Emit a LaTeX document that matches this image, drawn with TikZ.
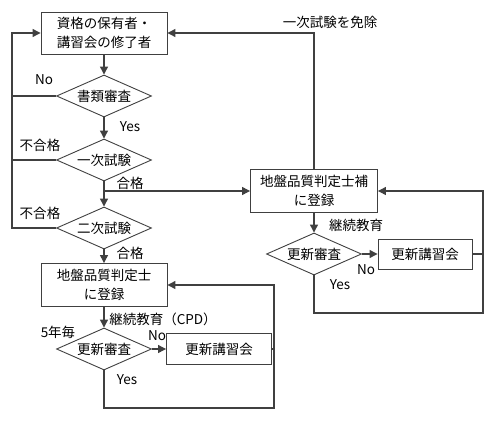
\documentclass[tikz,border=0pt]{standalone}
\usepackage{fontspec}
\setmainfont{Noto Sans CJK JP}
\usepackage{tikz}
\usetikzlibrary{shapes.geometric,arrows.meta}

\begin{document}
\begin{tikzpicture}[x=1pt,y=-1pt,
	box_node/.style={rectangle,draw=black!75,line width=0.9pt,inner sep=2pt,align=center,font=\fontsize{13.5}{19.5}\selectfont},
	dec_node/.style={diamond,draw=black!75,line width=0.9pt,inner sep=0pt,aspect=2.26,minimum width=95pt,minimum height=42pt,font=\fontsize{13.5}{19.5}\selectfont},
	lbl_node/.style={inner sep=0pt,font=\fontsize{13.5}{16}\selectfont},
	arr/.style={draw=black!75,line width=1.2pt,-{Triangle[length=8pt,width=8pt]}},
	ln/.style={draw=black!75,line width=1.2pt}]
	\useasboundingbox (0,0) rectangle (500,420);
	% left column
	\node[box_node,minimum width=126pt,minimum height=42pt] (start) at (104,33) {資格の保有者・\\講習会の修了者};
	\node[dec_node] (doc) at (104,96) {書類審査};
	\node[dec_node] (exam1) at (104,160) {一次試験};
	\node[dec_node] (exam2) at (104,228) {二次試験};
	\node[box_node,minimum width=126pt,minimum height=43pt] (reg) at (104,285) {地盤品質判定士\\に登録};
	\node[dec_node] (renew) at (104,349) {更新審査};
	\node[box_node,minimum width=105pt,minimum height=31pt] (course) at (219,349) {更新講習会};
	% right column
	\node[box_node,minimum width=127pt,minimum height=43pt] (reg_h) at (314,191) {地盤品質判定士補\\に登録};
	\node[dec_node] (renew_h) at (314,254) {更新審査};
	\node[box_node,minimum width=94pt,minimum height=30pt] (course_h) at (425,254) {更新講習会};
	\coordinate (back) at (12,33);
	\coordinate (loop_low) at (274,408);
	\coordinate (loop_up) at (483,313);
	% labels
	\node[lbl_node] (l_no1) at (44,80) {No};
	\node[lbl_node] (l_yes1) at (130,127) {Yes};
	\node[lbl_node] (l_ng1) at (40,145) {不合格};
	\node[lbl_node] (l_ok1) at (130,183) {合格};
	\node[lbl_node] (l_ng2) at (40,213) {不合格};
	\node[lbl_node] (l_ok2) at (130,253) {合格};
	\node[lbl_node] (l_cpd) at (163,319) {継続教育（CPD）};
	\node[lbl_node] (l_5y) at (58,332) {5年毎};
	\node[lbl_node] (l_no2) at (157,336) {No};
	\node[lbl_node] (l_yes2) at (127,380) {Yes};
	\node[lbl_node] (l_skip) at (330,22) {一次試験を免除};
	\node[lbl_node] (l_edu) at (356,225) {継続教育};
	\node[lbl_node] (l_no3) at (366,270) {No};
	\node[lbl_node] (l_yes3) at (340,285) {Yes};
	% connectors
	\draw[arr] (start) -- (doc);
	\draw[arr] (doc) -- (exam1);
	\draw[arr] (exam1) -- (exam2);
	\draw[arr] (exam2) -- (reg);
	\draw[arr] (reg) -- (renew);
	\draw[arr] (renew) -- (course);
	\draw[arr] (doc.west) -| (back) -- (start.west);
	\draw[ln] (exam1.west) -| (back);
	\draw[ln] (exam2.west) -| (back);
	\draw[arr] (exam1.south |- reg_h.west) -- (reg_h.west);
	\draw[arr] (reg_h.north) |- (start.east);
	\draw[arr] (renew.south) |- (loop_low) |- (reg.east);
	\draw[ln] (course.east) -- (course.east -| loop_low);
	\draw[arr] (reg_h) -- (renew_h);
	\draw[arr] (renew_h) -- (course_h);
	\draw[arr] (renew_h.south) |- (loop_up) |- (reg_h.east);
	\draw[ln] (course_h.east) -- (course_h.east -| loop_up);
\end{tikzpicture}
\end{document}
